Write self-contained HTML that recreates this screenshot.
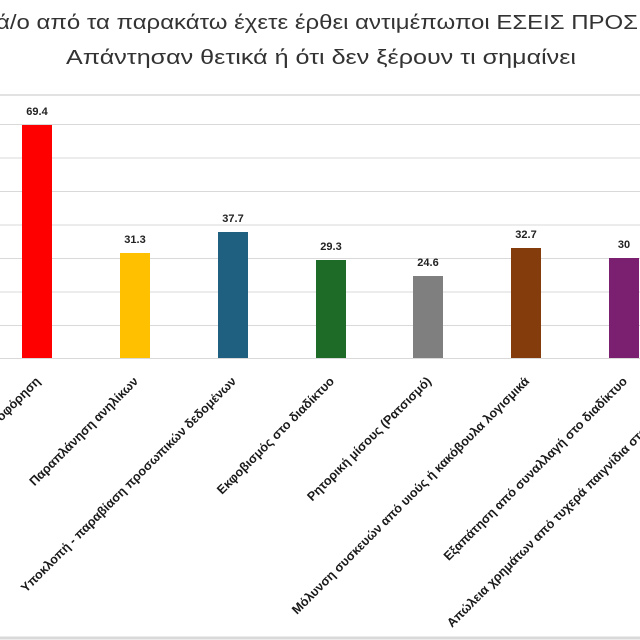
<!DOCTYPE html>
<html><head><meta charset="utf-8"><style>
html,body{margin:0;padding:0;background:#fff;overflow:hidden}
svg{display:block}
</style></head><body>
<svg width="640" height="640" xmlns="http://www.w3.org/2000/svg" font-family="Liberation Sans, DejaVu Sans, sans-serif">
<rect width="640" height="640" fill="#fff"/>
<text x="-4" y="29" font-size="20" fill="#333" textLength="642" lengthAdjust="spacingAndGlyphs">ά/ο από τα παρακάτω έχετε έρθει αντιμέπωποι ΕΣΕΙΣ ΠΡΟΣ</text>
<text x="66" y="64" font-size="20" fill="#333" textLength="510" lengthAdjust="spacingAndGlyphs">Απάντησαν  θετικά ή ότι δεν ξέρουν τι σημαίνει</text>
<line x1="0" y1="95" x2="640" y2="95" stroke="#d9d9d9" stroke-width="1.5"/>
<g stroke="#d9d9d9" stroke-width="1">
<line x1="0" y1="124.5" x2="640" y2="124.5"/>
<line x1="0" y1="158" x2="640" y2="158"/>
<line x1="0" y1="191.5" x2="640" y2="191.5"/>
<line x1="0" y1="225" x2="640" y2="225"/>
<line x1="0" y1="258.5" x2="640" y2="258.5"/>
<line x1="0" y1="292" x2="640" y2="292"/>
<line x1="0" y1="325.5" x2="640" y2="325.5"/>
<line x1="0" y1="358.5" x2="640" y2="358.5"/>
</g>
<rect x="22" y="125" width="30" height="233" fill="#ff0000"/>
<rect x="120" y="253" width="30" height="105" fill="#ffc000"/>
<rect x="218" y="232" width="30" height="126" fill="#1f5f7f"/>
<rect x="316" y="260" width="30" height="98" fill="#1e6b28"/>
<rect x="413" y="276" width="30" height="82" fill="#7f7f7f"/>
<rect x="511" y="248" width="30" height="110" fill="#843c0c"/>
<rect x="609" y="258" width="30" height="100" fill="#7b2070"/>
<g font-size="11" font-weight="bold" fill="#222" text-anchor="middle">
<text x="37" y="115">69.4</text>
<text x="135" y="243">31.3</text>
<text x="233" y="222">37.7</text>
<text x="331" y="250">29.3</text>
<text x="428" y="266">24.6</text>
<text x="526" y="238">32.7</text>
<text x="624" y="248">30</text>
</g>
<g font-size="12.6" font-weight="bold" fill="#1a1a1a" text-anchor="end">
<text transform="translate(41,382) rotate(-45)">Παραπληροφόρηση</text>
<text transform="translate(139,382) rotate(-45)">Παραπλάνηση ανηλίκων</text>
<text transform="translate(237,382) rotate(-45)">Υποκλοπή - παραβίαση προσωπικών δεδομένων</text>
<text transform="translate(335,382) rotate(-45)">Εκφοβισμός στο διαδίκτυο</text>
<text transform="translate(432,382) rotate(-45)">Ρητορική μίσους (Ρατσισμό)</text>
<text transform="translate(530,382) rotate(-45)">Μόλυνση συσκευών από υιούς ή κακόβουλα λογισμικά</text>
<text transform="translate(628,382) rotate(-45)">Εξαπάτηση από συναλλαγή στο διαδίκτυο</text>
</g>
<text transform="translate(452,628) rotate(-45)" font-size="12.6" font-weight="bold" fill="#1a1a1a">Απώλεια χρημάτων από τυχερά παιγνίδια στο διαδίκτυο</text>
<line x1="0" y1="638" x2="640" y2="638" stroke="#d9d9d9" stroke-width="3"/>
</svg>
</body></html>
